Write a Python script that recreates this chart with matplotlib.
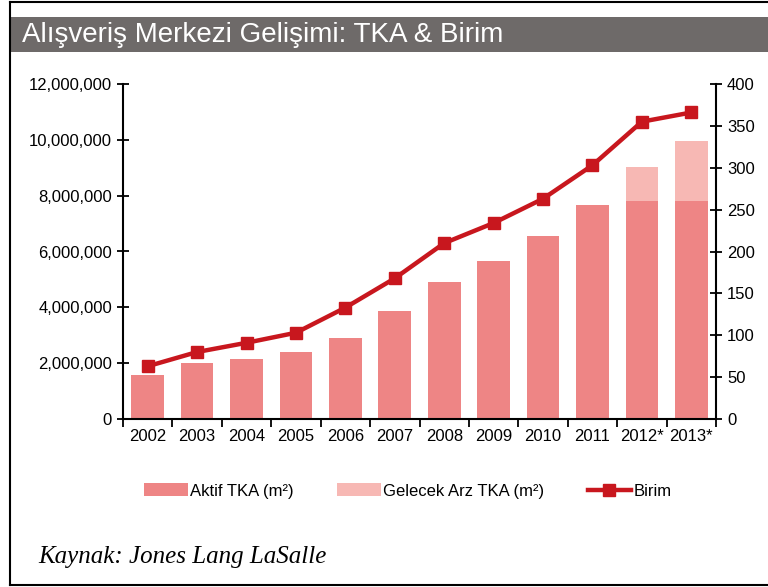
import matplotlib
matplotlib.use("Agg")
import matplotlib.pyplot as plt
from matplotlib.patches import Rectangle
from matplotlib.lines import Line2D
from matplotlib.ticker import FuncFormatter, MultipleLocator
import numpy as np

# data
years = ["2002", "2003", "2004", "2005", "2006", "2007", "2008", "2009",
         "2010", "2011", "2012*", "2013*"]
aktif_tka = [1560000, 2000000, 2150000, 2400000, 2900000, 3860000, 4900000,
             5660000, 6560000, 7650000, 7820000, 7820000]
gelecek_tka = [0, 0, 0, 0, 0, 0, 0, 0, 0, 0, 1220000, 2130000]
birim = [63, 80, 91, 103, 133, 168, 210, 234, 263, 303, 355, 366]

plt.rcParams["font.family"] = ["Liberation Sans", "DejaVu Sans"]

c_aktif = "#ee8585"
c_gelecek = "#f7b8b4"
c_birim = "#c8171e"

fig = plt.figure(figsize=(7.68, 5.87), dpi=100)

# frame lines and title bar
fig.add_artist(Line2D([10 / 768, 10 / 768], [1 - 2 / 587, 1 - 585 / 587],
                      color="black", lw=1.5, transform=fig.transFigure))
fig.add_artist(Line2D([10 / 768, 1], [1 - 2 / 587, 1 - 2 / 587],
                      color="black", lw=1.5, transform=fig.transFigure))
fig.add_artist(Line2D([10 / 768, 1], [1 - 585 / 587, 1 - 585 / 587],
                      color="black", lw=1.5, transform=fig.transFigure))
fig.add_artist(Rectangle((11 / 768, 1 - 52 / 587), 1, 35 / 587,
                         facecolor="#6e6a69", edgecolor="none",
                         transform=fig.transFigure))
fig.text(22 / 768, 1 - 35 / 587, "Alışveriş Merkezi Gelişimi: TKA & Birim",
         color="white", fontsize=20, va="center", ha="left")

ax = fig.add_axes([123 / 768, 1 - 419 / 587, (716 - 123) / 768, (419 - 84) / 587])
x = np.arange(len(years))
ax.bar(x, aktif_tka, width=0.66, color=c_aktif, zorder=2)
ax.bar(x, gelecek_tka, width=0.66, bottom=aktif_tka, color=c_gelecek, zorder=2)
ax.set_xlim(-0.5, len(years) - 0.5)
ax.set_ylim(0, 12000000)
ax.yaxis.set_major_locator(MultipleLocator(2000000))
ax.yaxis.set_major_formatter(FuncFormatter(lambda v, p: f"{int(v):,}"))
ax.set_xticks(x)
ax.set_xticklabels(years)
ax.set_xticks(np.arange(len(years) + 1) - 0.5, minor=True)
ax.tick_params(axis="x", which="major", length=0, labelsize=12, pad=7)
ax.tick_params(axis="x", which="minor", length=6, width=1.3, direction="out")
ax.tick_params(axis="y", length=8, width=1.3, direction="inout", labelsize=12, pad=4)
ax.spines["top"].set_visible(False)
ax.spines["right"].set_visible(False)
for s in ["left", "bottom"]:
    ax.spines[s].set_linewidth(1.5)

ax2 = ax.twinx()
ax2.plot(x, birim, color=c_birim, lw=3.2, marker="s", markersize=9, zorder=3)
ax2.set_ylim(0, 400)
ax2.yaxis.set_major_locator(MultipleLocator(50))
ax2.tick_params(axis="y", length=8, width=1.3, direction="inout", labelsize=12, pad=4)
ax2.spines["top"].set_visible(False)
ax2.spines["left"].set_visible(False)
ax2.spines["bottom"].set_visible(False)
ax2.spines["right"].set_linewidth(1.5)

handles = [
    Rectangle((0, 0), 1, 1, facecolor=c_aktif, edgecolor="none"),
    Rectangle((0, 0), 1, 1, facecolor=c_gelecek, edgecolor="none"),
    Line2D([], [], color=c_birim, lw=3.2, marker="s", markersize=8),
]
labels = ["Aktif TKA (m²)", "Gelecek Arz TKA (m²)", "Birim"]
fig.legend(handles, labels, loc="center", bbox_to_anchor=(408 / 768, 1 - 491 / 587),
           ncol=3, frameon=False, fontsize=12, handlelength=2.6, handleheight=0.8,
           handletextpad=0.15, columnspacing=2.6)

fig.text(38 / 768, 1 - 557 / 587, "Kaynak: Jones Lang LaSalle",
         family=["Liberation Serif", "DejaVu Serif"], style="italic",
         fontsize=18, va="center", ha="left")

fig.savefig("out.png", dpi=100)
